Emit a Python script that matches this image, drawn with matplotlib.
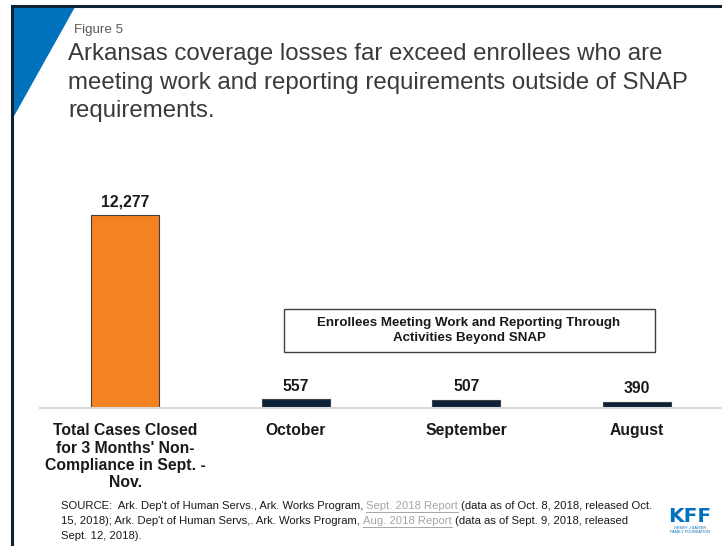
import matplotlib
matplotlib.use("Agg")
import matplotlib.pyplot as plt
from matplotlib.patches import Polygon, Rectangle
from matplotlib.lines import Line2D

plt.rcParams['font.family'] = ['Liberation Sans', 'DejaVu Sans']

# chart data
categories = ["Total Cases Closed\nfor 3 Months' Non-\nCompliance in Sept. -\nNov.",
              "October", "September", "August"]
values = [12277, 557, 507, 390]
value_labels = ["12,277", "557", "507", "390"]
title_lines = ["Arkansas coverage losses far exceed enrollees who are",
               "meeting work and reporting requirements outside of SNAP",
               "requirements."]

W, H = 722, 546
fig = plt.figure(figsize=(W / 100, H / 100), dpi=100)


def fx(px):
    return px / W


def fy(py):
    return 1 - py / H


# frame lines and corner triangle
fig.add_artist(Line2D([fx(12), fx(12)], [fy(6), fy(546)], color="#0d2137", lw=2.2))
fig.add_artist(Line2D([fx(12), fx(722)], [fy(6), fy(6)], color="#0d2137", lw=2.2))
fig.add_artist(Polygon([[fx(13), fy(7)], [fx(75), fy(7)], [fx(13), fy(118)]],
                       closed=True, color="#0071bc", lw=0))

fig.text(fx(74), fy(33), "Figure 5", fontsize=9.6, color="#595959", va="baseline")
for i, line in enumerate(title_lines):
    fig.text(fx(68), fy(60 + i * 28.5), line, fontsize=17.3, color="#3a3a3a",
             va="baseline")

# bars
ax = fig.add_axes([fx(40), fy(408), fx(722) - fx(40), fy(188) - fy(408)])
x = list(range(len(values)))
bar_colors = ["#f58220", "#0b2239", "#0b2239", "#0b2239"]
ax.bar(x, values, width=0.4, color=bar_colors, edgecolor="#404040", linewidth=0.8)
ax.set_xlim(-0.5, 3.5)
ax.set_ylim(0, 14000)
for s in ["top", "right", "left"]:
    ax.spines[s].set_visible(False)
ax.spines["bottom"].set_color("#d9d9d9")
ax.spines["bottom"].set_linewidth(1.5)
ax.set_yticks([])
ax.set_xticks(x)
ax.set_xticklabels(categories, fontsize=11.3, fontweight="bold", color="#1a1a1a",
                   linespacing=1.2, va="top")
ax.tick_params(axis="x", length=0, pad=11)
for xi, v, lab in zip(x, values, value_labels):
    ax.annotate(lab, (xi, v), xytext=(0, 4), textcoords="offset points",
                ha="center", va="bottom", fontsize=11.3, fontweight="bold", color="#1a1a1a")

# callout box
fig.add_artist(Rectangle((fx(284), fy(352)), fx(655) - fx(284), fy(309) - fy(352),
                         fill=False, edgecolor="#404040", lw=1.0))
fig.text(fx(469), fy(330.5),
         "Enrollees Meeting Work and Reporting Through\nActivities Beyond SNAP",
         fontsize=9.6, fontweight="bold", ha="center", va="center", color="#1a1a1a",
         linespacing=1.3)

# source note with linked report names
renderer = fig.canvas.get_renderer()
src_lines = [
    [("SOURCE:  Ark. Dep't of Human Servs., Ark. Works Program, ", False),
     ("Sept. 2018 Report ", True),
     ("(data as of Oct. 8, 2018, released Oct.", False)],
    [("15, 2018); Ark. Dep't of Human Servs,. Ark. Works Program, ", False),
     ("Aug. 2018 Report ", True),
     ("(data as of Sept. 9, 2018, released", False)],
    [("Sept. 12, 2018).", False)],
]
for i, pieces in enumerate(src_lines):
    px = 61
    py = 506 + i * 15
    for txt, link in pieces:
        t = fig.text(fx(px), fy(py), txt, fontsize=8.1, va="center",
                     color="#a6a6a6" if link else "#1a1a1a")
        w = t.get_window_extent(renderer).width
        if link:
            fig.add_artist(Line2D([fx(px), fx(px + w - 3)], [fy(py + 6), fy(py + 6)],
                                  color="#a6a6a6", lw=0.7))
        px += w

# logo
fig.text(fx(690), fy(522), "KFF", fontsize=14.5, fontweight="bold", color="#0071bc",
         ha="center", va="baseline", family=["Liberation Sans Narrow", "DejaVu Sans"])
fig.text(fx(690), fy(530), "HENRY J KAISER\nFAMILY FOUNDATION", fontsize=2.8,
         color="#0071bc", ha="center", va="center", linespacing=1.1)

fig.savefig("out.png", dpi=100)
